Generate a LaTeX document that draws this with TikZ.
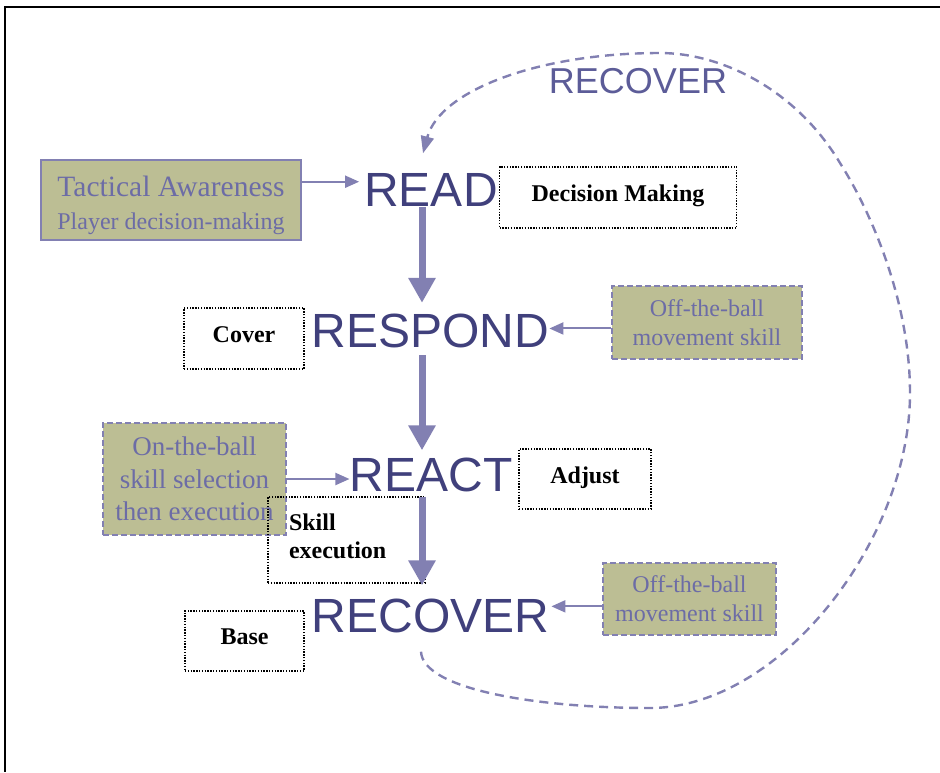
\documentclass[tikz,border=0pt]{standalone}
\usepackage{fontspec}
\setmainfont{Liberation Serif}
\newfontfamily\sansword{Liberation Sans}
\usetikzlibrary{arrows.meta,calc}
\definecolor{navyword}{RGB}{64,64,124}
\definecolor{linkc}{RGB}{130,128,178}
\definecolor{olivefill}{RGB}{188,190,148}
\definecolor{boxtext}{RGB}{108,108,166}
\definecolor{looplabel}{RGB}{92,92,152}
\newcommand{\lowstrut}{\rule[-8pt]{0pt}{8pt}}
\begin{document}
\begin{tikzpicture}[x=1pt,y=1pt,
  bigword/.style={font=\sansword\fontsize{48}{52}\selectfont, text=navyword, inner sep=0pt},
  olivebox/.style={fill=olivefill, text=boxtext, align=center, inner sep=0pt},
  solidedge/.style={draw=linkc, line width=1.3pt},
  dashedge/.style={draw=linkc, line width=1.5pt, dash pattern=on 6pt off 3pt},
  dotbox/.style={draw=black, line width=1.4pt, dash pattern=on 1.4pt off 1.4pt, font=\bfseries\fontsize{24}{28}\selectfont, inner sep=0pt},
  thickarrow/.style={draw=linkc, line width=7pt, -{Triangle[length=25pt,width=26pt]}},
  thinarrow/.style={draw=linkc, line width=2pt, -{Triangle[length=14pt,width=12pt]}},
  loopline/.style={draw=linkc, line width=2.4pt, dash pattern=on 9pt off 6pt, -{Triangle[length=17pt,width=13pt]}}]

\useasboundingbox (0,0) rectangle (940,-772);
\draw[line width=1.5pt] (940,-7) -- (5,-7) -- (5,-772);

\node[olivebox, solidedge, minimum width=260pt, minimum height=80pt, font=\fontsize{24}{33}\selectfont] (ta) at (171,-200)
  {\rule{0pt}{32pt}{\fontsize{29.5}{33}\selectfont Tactical Awareness}\\Player decision-making};
\node[bigword] (read) at (431,-189.5) {READ};
\node[dotbox, minimum width=237pt, minimum height=61pt] (dm) at (618,-197.5) {Decision Making\lowstrut};

\node[dotbox, minimum width=120pt, minimum height=61pt] (cover) at (244,-338.5) {Cover\lowstrut};
\node[bigword] (respond) at (430.5,-331) {RESPOND};
\node[olivebox, dashedge, minimum width=190pt, minimum height=73pt, font=\fontsize{24}{29}\selectfont] (ob1) at (707,-322.5) {Off-the-ball\\movement skill};

\node[olivebox, dashedge, minimum width=183pt, minimum height=112pt, font=\fontsize{27}{32.5}\selectfont] (otb) at (194.5,-479) {On-the-ball\\skill selection\\then execution};
\node[bigword] (react) at (431,-474.5) {REACT};
\node[dotbox, minimum width=132pt, minimum height=60pt] (adj) at (585,-479) {Adjust\lowstrut};
\node[dotbox, minimum width=157pt, minimum height=86pt, text width=115pt, align=left] (skill) at (346.5,-540) {Skill\\execution\lowstrut};

\node[bigword] (recover) at (430.5,-615.5) {RECOVER};
\node[dotbox, minimum width=119pt, minimum height=60pt] (base) at (244.5,-641) {Base\lowstrut};
\node[olivebox, dashedge, minimum width=173pt, minimum height=72pt, font=\fontsize{24}{29}\selectfont] (ob2) at (689.5,-599) {Off-the-ball\\movement skill};

\node[font=\sansword\fontsize{36}{40}\selectfont, text=looplabel, inner sep=0pt] (loopword) at (638,-81) {RECOVER};

\coordinate (ax) at (422,0);
\coordinate (taout) at ($(ta.north east)!0.275!(ta.south east)$);
\draw[thinarrow, shorten >=5pt] (taout) -- (taout -| read.west);
\coordinate (ob1out) at ($(ob1.north west)!0.58!(ob1.south west)$);
\draw[thinarrow] (ob1out) -- (ob1out -| respond.east);
\draw[thinarrow] (otb.east) -- (otb.east -| react.west);
\coordinate (ob2out) at ($(ob2.north west)!0.6!(ob2.south west)$);
\draw[thinarrow, shorten >=2pt] (ob2out) -- (ob2out -| recover.east);

\draw[thickarrow, shorten <=1pt, shorten >=11pt] (read.south -| ax) -- (respond.north -| ax);
\draw[thickarrow, shorten <=7pt, shorten >=7pt] (respond.south -| ax) -- (react.north -| ax);
\draw[thickarrow, shorten <=5pt, shorten >=13pt] (react.south -| ax) -- (recover.north -| ax);

\coordinate (loopstart) at ($(recover.south)+(-9.5,-19)$);
\coordinate (loopend) at ($(read.north)+(-8,19.5)$);
\draw[loopline] (loopstart)
  .. controls (423,-690) and (540,-708) .. (650,-708)
  .. controls (780,-708) and (910,-540) .. (910,-393)
  .. controls (910,-300) and (870,-210) .. (840,-163)
  .. controls (795,-88) and (720,-53) .. (660,-53)
  .. controls (540,-53) and (440,-90) .. (loopend);
\end{tikzpicture}
\end{document}
